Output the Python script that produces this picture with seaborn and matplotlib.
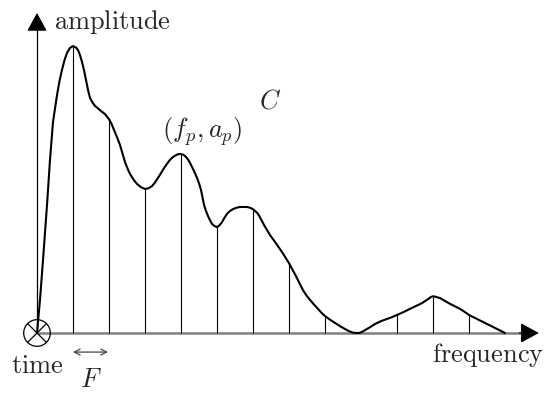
import matplotlib
matplotlib.use('Agg')
import matplotlib.pyplot as plt
import pandas as pd
import seaborn as sns
from matplotlib.patches import Circle

# spectrum envelope C (frequency in units of F)
freq = [0, 0.083, 0.167, 0.278, 0.361, 0.444, 0.556, 0.625, 0.694, 0.764,
        0.833, 0.917, 1.0, 1.083, 1.139, 1.194, 1.25, 1.306, 1.361, 1.417,
        1.472, 1.542, 1.611, 1.75, 1.889, 2.0, 2.069, 2.139, 2.222, 2.306,
        2.375, 2.444, 2.514, 2.583, 2.681, 2.778, 2.889, 3.0, 3.097, 3.194,
        3.278, 3.361, 3.444, 3.528, 3.611, 3.694, 3.778, 3.861, 3.931, 4.0,
        4.069, 4.139, 4.208, 4.278, 4.361, 4.444, 4.5, 4.556, 4.597, 4.639,
        4.694, 4.75, 4.806, 4.861, 4.931, 5.0, 5.069, 5.139, 5.208, 5.278,
        5.361, 5.444, 5.542, 5.639, 5.736, 5.833, 5.917, 6.0, 6.069, 6.139,
        6.222, 6.306, 6.389, 6.472, 6.611, 6.75, 6.875, 7.0, 7.097, 7.194,
        7.292, 7.389, 7.486, 7.583, 7.694, 7.806, 7.903, 8.0, 8.139, 8.278,
        8.417, 8.556, 8.667, 8.778, 8.861, 8.944, 9.028, 9.111, 9.25, 9.389,
        9.556, 9.722, 9.861, 10.0, 10.181, 10.361, 10.528, 10.694, 10.847, 10.944,
        11.0, 11.056, 11.194, 11.333, 11.472, 11.611, 11.75, 11.875, 12.0, 12.222,
        12.444, 12.722, 13.0]
amp = [0, 0.92, 2.03, 3.56, 4.81, 5.86, 6.61, 7.0, 7.31, 7.58,
       7.78, 7.92, 7.97, 7.93, 7.86, 7.72, 7.53, 7.3, 7.03, 6.75,
       6.53, 6.4, 6.31, 6.19, 6.08, 5.94, 5.81, 5.64, 5.44, 5.22,
       4.98, 4.75, 4.57, 4.42, 4.26, 4.14, 4.05, 4.0, 4.02, 4.08,
       4.18, 4.31, 4.44, 4.58, 4.7, 4.81, 4.89, 4.94, 4.97, 4.97,
       4.95, 4.89, 4.8, 4.67, 4.5, 4.31, 4.16, 3.97, 3.77, 3.56,
       3.39, 3.25, 3.13, 3.03, 2.97, 2.94, 2.99, 3.08, 3.2, 3.31,
       3.39, 3.44, 3.48, 3.5, 3.5, 3.5, 3.48, 3.44, 3.38, 3.31,
       3.16, 3.0, 2.86, 2.72, 2.53, 2.33, 2.14, 1.94, 1.76, 1.58,
       1.38, 1.19, 1.04, 0.92, 0.79, 0.67, 0.56, 0.47, 0.37, 0.28,
       0.19, 0.11, 0.05, 0.01, 0.0, 0.0, 0.03, 0.08, 0.16, 0.25,
       0.33, 0.39, 0.44, 0.5, 0.58, 0.67, 0.75, 0.83, 0.93, 1.0,
       1.02, 1.01, 0.97, 0.89, 0.81, 0.74, 0.67, 0.59, 0.5, 0.39,
       0.28, 0.14, 0.0]

# sampled partials (f_p, a_p) at multiples of F
partial_freq = [1, 2, 3, 4, 5, 6, 7, 8, 9, 10, 11, 12]
partial_amp = [7.97, 5.94, 4.0, 4.97, 2.94, 3.44, 1.94, 0.47, 0.0, 0.5, 1.0, 0.5]

df = pd.DataFrame({'frequency': freq, 'amplitude': amp})

sns.set_theme(style='white')
plt.rcParams['mathtext.fontset'] = 'cm'

fig = plt.figure(figsize=(5.46, 3.93), dpi=100)
ax = fig.add_axes([0, 0, 1, 1])
ax.set_xlim(-1.028, 14.139)
ax.set_ylim(-1.667, 9.25)
ax.axis('off')

# axes with arrow heads
ax.plot([0, 13.6], [0, 0], color='#808080', lw=1.8, solid_capstyle='butt', zorder=1)
ax.plot([0, 0], [0, 8.6], color='black', lw=0.9, zorder=1)
head = dict(arrowstyle='-|>,head_length=0.95,head_width=0.52', color='black',
            lw=0.9, shrinkA=0, shrinkB=0)
ax.annotate('', xy=(0, 8.89), xytext=(0, 8.4), arrowprops=head)
ax.annotate('', xy=(13.94, 0), xytext=(13.4, 0), arrowprops=head)

# partial stems
ax.vlines(partial_freq, 0, partial_amp, color='black', lw=0.8, zorder=2)

# envelope
sns.lineplot(data=df, x='frequency', y='amplitude', color='black', lw=1.5,
             sort=False, ax=ax, zorder=3, solid_joinstyle='round')

# time axis marker (pointing into the page)
r = 0.37
ax.add_patch(Circle((0, 0), r, fill=False, ec='black', lw=0.9, zorder=4))
d = r * 0.707
ax.plot([-d, d], [-d, d], color='black', lw=0.9, zorder=4)
ax.plot([-d, d], [d, -d], color='black', lw=0.9, zorder=4)

# F spacing marker
ax.annotate('', xy=(1.0, -0.53), xytext=(1.97, -0.53),
            arrowprops=dict(arrowstyle='<->,head_length=0.35,head_width=0.18',
                            color='#444444', lw=0.9, shrinkA=0, shrinkB=0))

fs = 19
ax.text(0.47, 8.63, r'$\mathrm{amplitude}$', fontsize=fs, ha='left', va='center')
ax.text(0.0, -0.92, r'$\mathrm{time}$', fontsize=fs, ha='center', va='center')
ax.text(14.1, -0.62, r'$\mathrm{frequency}$', fontsize=fs, ha='right', va='center')
ax.text(1.5, -1.5, r'$F$', fontsize=fs, ha='center', va='baseline')
ax.text(4.6, 5.6, r'$(f_p, a_p)$', fontsize=fs, ha='center', va='center')
ax.text(6.47, 6.42, r'$C$', fontsize=fs, ha='center', va='center')

fig.savefig('out.png', dpi=100)
